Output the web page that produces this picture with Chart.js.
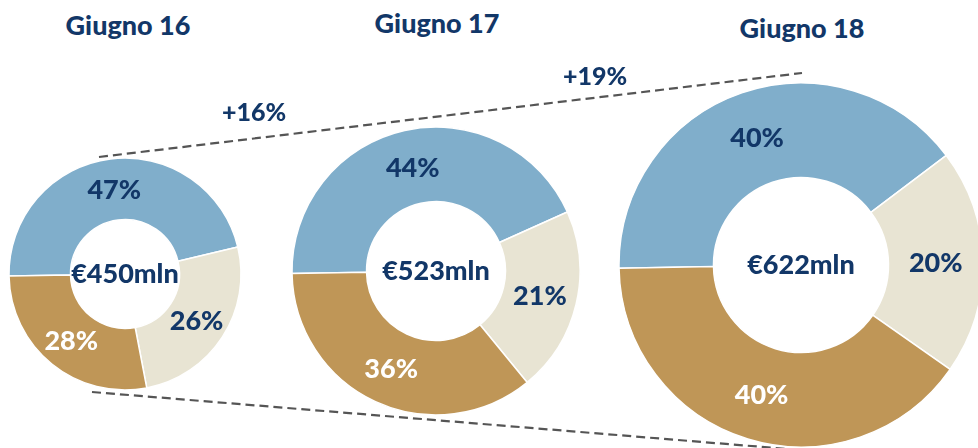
<!DOCTYPE html>
<html>
<head>
<meta charset="utf-8">
<script src="https://cdn.jsdelivr.net/npm/chart.js@4/dist/chart.umd.min.js"></script>
<style>
    html, body { margin: 0; padding: 0; background: #fff; }
    body { width: 978px; height: 448px; position: relative; overflow: hidden; font-family: Lato, sans-serif; }
    .donut { position: absolute; }
    .lbl { position: absolute; color: #123768; font-weight: 900; white-space: nowrap; transform: translate(-50%, -50%); }
    .title { font-size: 27px; }
    .growth { font-size: 25px; }
    #lines { position: absolute; left: 0; top: 0; }
</style>
</head>
<body>
<svg id="lines" width="978" height="448"></svg>
<div class="donut" style="left:5px;top:154px;width:240px;height:240px"><canvas id="donut-16"></canvas></div>
<div class="donut" style="left:286px;top:121px;width:300px;height:300px"><canvas id="donut-17"></canvas></div>
<div class="donut" style="left:611px;top:75px;width:380px;height:380px"><canvas id="donut-18"></canvas></div>
<div id="labels"></div>
<script>
const periods = ['Giugno 16', 'Giugno 17', 'Giugno 18'];
const totals = ['€450mln', '€523mln', '€622mln'];
const blueShare = [47, 44, 40];
const beigeShare = [26, 21, 20];
const tanShare = [28, 36, 40];
const growth = ['+16%', '+19%'];

const navy = '#123768';
const colors = ['#80aecb', '#e8e4d3', '#bf9657'];
const labelColors = [navy, navy, '#ffffff'];

// layout of the three rings (outer radius, hole radius, title position)
const rings = [
    { id: 'donut-16', radius: 116, hole: 56, title: [128, 24] },
    { id: 'donut-17', radius: 144, hole: 72, title: [437, 22] },
    { id: 'donut-18', radius: 182, hole: 91, title: [802, 27] }
];
const growthPos = [[254, 111], [595, 75]];

// dashed guide lines behind the rings
const svg = document.getElementById('lines');
svg.innerHTML =
    '<line x1="99" y1="157" x2="802" y2="73" stroke="#555" stroke-width="2.2" stroke-dasharray="9 5"/>' +
    '<line x1="92" y1="392" x2="800" y2="450" stroke="#555" stroke-width="2.2" stroke-dasharray="9 5"/>';

const labelsBox = document.getElementById('labels');
periods.forEach((p, i) => {
    const d = document.createElement('div');
    d.className = 'lbl title';
    d.style.left = rings[i].title[0] + 'px';
    d.style.top = rings[i].title[1] + 'px';
    d.textContent = p;
    labelsBox.appendChild(d);
});
growth.forEach((g, i) => {
    const d = document.createElement('div');
    d.className = 'lbl growth';
    d.style.left = growthPos[i][0] + 'px';
    d.style.top = growthPos[i][1] + 'px';
    d.textContent = g;
    labelsBox.appendChild(d);
});

const sliceLabels = {
    id: 'sliceLabels',
    afterDatasetsDraw(chart, args, opts) {
        const ctx = chart.ctx;
        const meta = chart.getDatasetMeta(0);
        const values = chart.data.datasets[0].data;
        ctx.save();
        ctx.textAlign = 'center';
        ctx.textBaseline = 'middle';
        ctx.font = '900 27px Lato';
        meta.data.forEach((arc, j) => {
            const pos = arc.tooltipPosition();
            ctx.fillStyle = labelColors[j];
            ctx.fillText(values[j] + '%', pos.x, pos.y + 1);
        });
        const c = meta.data[0];
        ctx.fillStyle = navy;
        ctx.fillText(opts.total, c.x, c.y);
        ctx.restore();
    }
};

Chart.register(sliceLabels);

rings.forEach((r, i) => {
    new Chart(document.getElementById(r.id), {
        type: 'doughnut',
        data: {
            labels: ['a', 'b', 'c'],
            datasets: [{
                data: [blueShare[i], beigeShare[i], tanShare[i]],
                backgroundColor: colors,
                borderColor: '#ffffff',
                borderWidth: 1.5,
                hoverOffset: 0
            }]
        },
        options: {
            responsive: true,
            maintainAspectRatio: false,
            animation: false,
            radius: r.radius,
            cutout: r.hole,
            rotation: -91,
            layout: { padding: 0 },
            plugins: {
                legend: { display: false },
                tooltip: { enabled: false },
                sliceLabels: { total: totals[i] }
            }
        }
    });
});
</script>
</body>
</html>
